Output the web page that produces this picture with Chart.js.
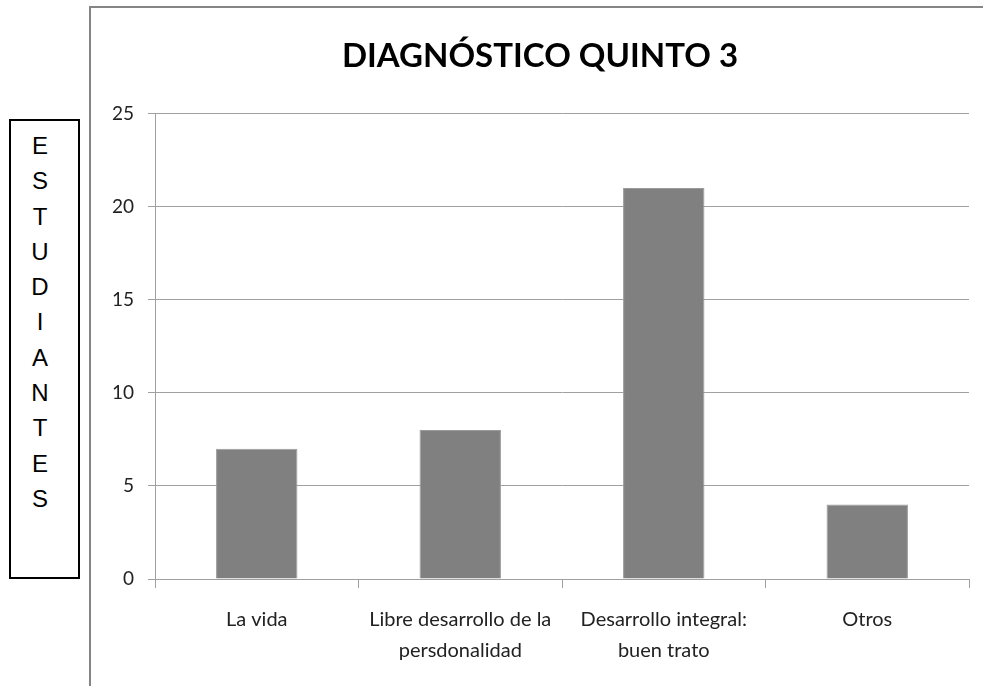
<!DOCTYPE html>
<html>
<head>
<meta charset="utf-8">
<script src="https://cdn.jsdelivr.net/npm/chart.js@4/dist/chart.umd.min.js"></script>
<style>
  html, body { margin: 0; padding: 0; background: #fff; }
  #pagina { position: relative; width: 983px; height: 686px; overflow: hidden; }
  #marco { position: absolute; left: 89px; top: 6px; width: 900px; height: 700px;
           border-left: 2px solid #858585; border-top: 2px solid #858585; }
  #caja { position: absolute; left: 9px; top: 119px; width: 67px; height: 456px;
          border: 2px solid #000; }
  #caja div { position: absolute; left: 0; top: 7px; width: 58px; text-align: center;
              font-family: "Liberation Sans", Arial, sans-serif; font-size: 24px;
              line-height: 35.3px; color: #000; }
  #graficoDiagnostico { position: absolute; left: 0; top: 0; }
</style>
</head>
<body>
<div id="pagina">
  <div id="marco"></div>
  <div id="caja"><div id="letras"></div></div>
  <canvas id="graficoDiagnostico" width="983" height="686"></canvas>
</div>
<script>
const titulo = "DIAGNÓSTICO QUINTO 3";
const ejeY = "ESTUDIANTES";
const categorias = [
  "La vida",
  ["Libre desarrollo de la", "persdonalidad"],
  ["Desarrollo integral:", "buen trato"],
  "Otros"
];
const estudiantes = [7, 8, 21, 4];
const marcasY = [0, 5, 10, 15, 20, 25];

document.getElementById("letras").innerHTML = ejeY.split("").join("<br>");

const ctx = document.getElementById("graficoDiagnostico");

new Chart(ctx, {
  type: "bar",
  data: {
    labels: categorias,
    datasets: [{
      data: estudiantes,
      backgroundColor: "#808080",
      borderColor: "#9a9a9a",
      borderWidth: 1,
      barPercentage: 0.4,
      categoryPercentage: 1
    }]
  },
  options: {
    responsive: false,
    animation: false,
    layout: { padding: { left: 111, right: 14, top: 7, bottom: 0 } },
    plugins: {
      legend: { display: false },
      tooltip: { enabled: false },
      title: {
        display: true,
        text: titulo,
        color: "#000",
        font: { family: "Lato", size: 33, weight: "bold" },
        padding: { top: 30, bottom: 37 }
      }
    },
    scales: {
      x: {
        grid: { drawOnChartArea: false, drawTicks: true, tickLength: 9, color: "#a0a0a0" },
        border: { color: "#a0a0a0", width: 1 },
        ticks: { color: "#222", font: { family: "Lato", size: 20, lineHeight: 1.55 }, padding: 16, maxRotation: 0 },
        afterFit: scale => { scale.height = 107; }
      },
      y: {
        min: marcasY[0],
        max: marcasY[marcasY.length - 1],
        grid: { color: "#a0a0a0", tickLength: 7 },
        border: { color: "#a0a0a0", width: 1 },
        ticks: { stepSize: 5, color: "#222", font: { family: "Lato", size: 19 }, padding: 14 },
        afterFit: scale => { scale.width = 44; }
      }
    }
  }
});
</script>
</body>
</html>
